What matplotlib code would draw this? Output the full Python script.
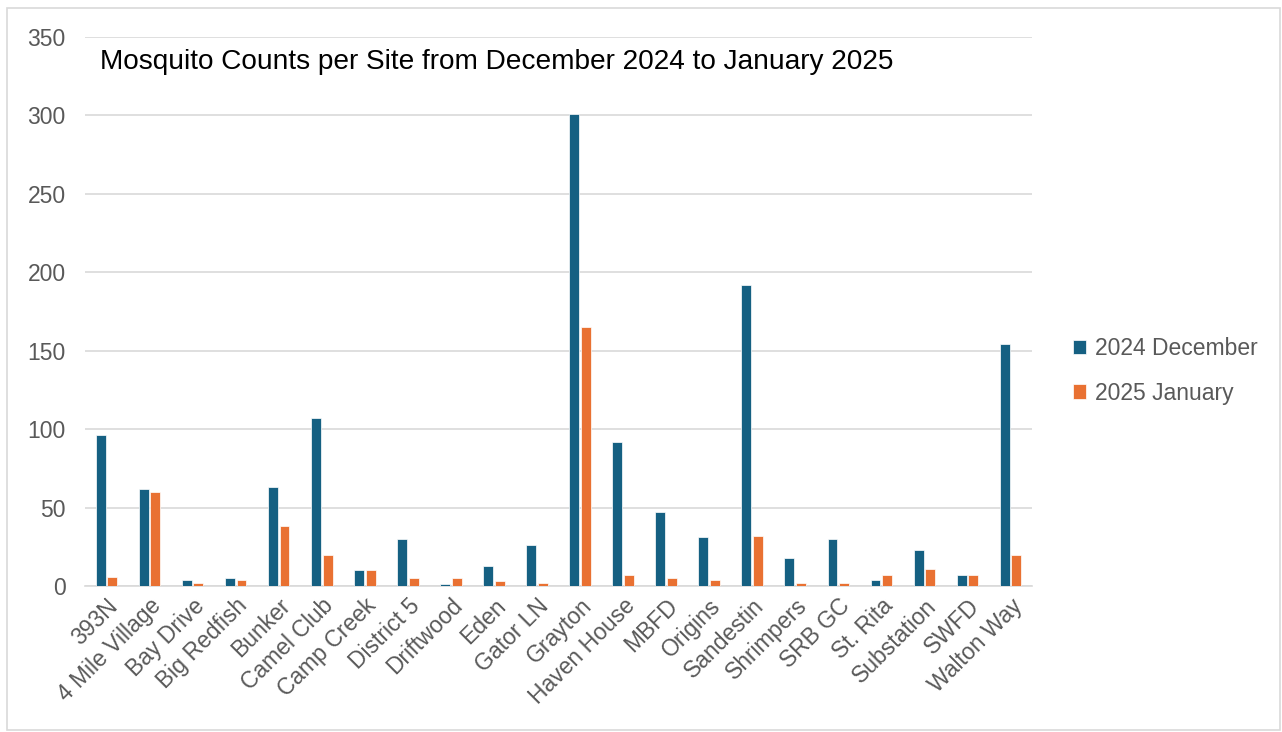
import matplotlib.pyplot as plt
import numpy as np
from matplotlib.patches import Rectangle

sites = ['393N', '4 Mile Village', 'Bay Drive', 'Big Redfish', 'Bunker', 'Camel Club',
         'Camp Creek', 'District 5', 'Driftwood', 'Eden', 'Gator LN', 'Grayton',
         'Haven House', 'MBFD', 'Origins', 'Sandestin', 'Shrimpers', 'SRB GC',
         'St. Rita', 'Substation', 'SWFD', 'Walton Way']
dec_2024 = [96, 62, 4, 5, 63, 107, 10, 30, 1, 13, 26, 301, 92, 47, 31, 192, 18, 30, 4, 23, 7, 154]
jan_2025 = [6, 60, 2, 4, 38, 20, 10, 5, 5, 3, 2, 165, 7, 5, 4, 32, 2, 2, 7, 11, 7, 20]
y_ticks = [0, 50, 100, 150, 200, 250, 300, 350]

blue = '#156082'
orange = '#E97132'
grey = '#595959'

plt.rcParams['font.family'] = ['Liberation Sans', 'DejaVu Sans']

fig = plt.figure(figsize=(12.82, 7.32), dpi=100)
ax = fig.add_axes([85 / 1282, 1 - 586 / 732, (1032 - 85) / 1282, (586 - 37) / 732])

x = np.arange(len(sites))
w = 0.23
ax.bar(x - w / 2 - 0.02, dec_2024, w, color=blue, edgecolor='white', linewidth=0.5,
       label='2024 December', zorder=3)
ax.bar(x + w / 2 + 0.02, jan_2025, w, color=orange, edgecolor='white', linewidth=0.5,
       label='2025 January', zorder=3)

ax.set_xlim(-0.5, len(sites) - 0.5)
ax.set_ylim(0, 350)
ax.set_yticks(y_ticks)
ax.yaxis.grid(True, color='#d9d9d9', linewidth=1.2, zorder=0)
ax.tick_params(axis='y', length=0, labelsize=16.5, labelcolor=grey, pad=14)
ax.tick_params(axis='x', length=0, labelsize=16.5, labelcolor=grey, pad=6)
ax.set_xticks(x)
ax.set_xticklabels(sites, rotation=45, ha='right', rotation_mode='anchor')
for s in ['top', 'right', 'left']:
    ax.spines[s].set_visible(False)
ax.spines['bottom'].set_color('#d9d9d9')
ax.spines['bottom'].set_linewidth(1.2)

ax.text(100 / 1282, 1 - 62 / 732, 'Mosquito Counts per Site from December 2024 to January 2025',
        transform=fig.transFigure, fontsize=20.2, color='black', va='center', ha='left')

ax.legend(loc='center left', bbox_to_anchor=(1.021, 0.392), frameon=False,
          fontsize=16.5, labelcolor=grey, handlelength=0.6, handleheight=0.6,
          labelspacing=0.95, handletextpad=0.4)

fig.patches.append(Rectangle((7 / 1282, 2 / 732), 1273 / 1282, 722 / 732,
                             transform=fig.transFigure, fill=False,
                             edgecolor='#d9d9d9', linewidth=1.2))

fig.savefig('out.png', dpi=100)
